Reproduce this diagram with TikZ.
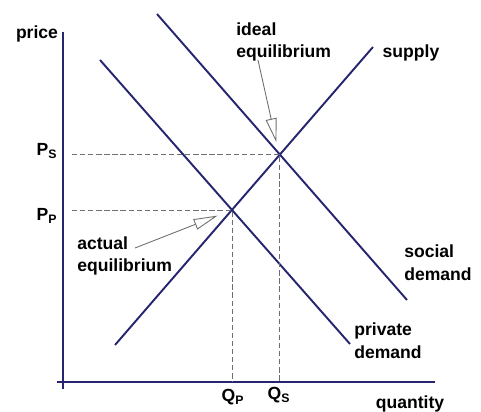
\documentclass[tikz,border=0pt]{standalone}
\usepackage{fontspec}
\setmainfont{Liberation Sans}[BoldFont={Liberation Sans Bold}]
\usepackage{xcolor}
\usetikzlibrary{arrows.meta,positioning}
\definecolor{curvenavy}{RGB}{38,38,112}
\definecolor{guidegray}{RGB}{110,110,110}

\begin{document}
\begin{tikzpicture}[
  x=0.02cm, y=-0.02cm,
  axis/.style={curvenavy, line width=1.7pt},
  curve/.style={curvenavy, line width=1.1pt},
  guide/.style={guidegray, line width=0.5pt, dash pattern=on 3pt off 1.6pt},
  lab/.style={font=\bfseries\fontsize{10}{13}\selectfont, inner sep=0pt},
  pointer/.style={guidegray, line width=0.5pt, -{Triangle[open, length=0.48cm, width=0.22cm]}}
]
\useasboundingbox (0,0) rectangle (481,412);
% axes
\coordinate (ytop) at (63,32);
\coordinate (ybot) at (63,389);
\coordinate (xleft) at (57,382);
\coordinate (xright) at (435,382);
\draw[axis] (ytop) -- (ybot);
\draw[axis] (xleft) -- (xright);
% curves
\coordinate (soc1) at (157,14);
\coordinate (soc2) at (407,300);
\coordinate (priv1) at (100,60);
\coordinate (priv2) at (350,344);
\coordinate (sup1) at (115,345);
\coordinate (sup2) at (373,47);
\draw[curve] (soc1) -- (soc2);
\draw[curve] (priv1) -- (priv2);
\draw[curve] (sup1) -- (sup2);
% equilibria
\coordinate (Eideal) at (279,154);
\coordinate (Eact) at (232,210);
\coordinate (Ps) at (72,154);
\coordinate (Pp) at (72,210);
\coordinate (Qs) at (279,382);
\coordinate (Qp) at (232,382);
\draw[guide] (Ps) -- (Eideal) -- (Qs);
\draw[guide] (Pp) -- (Eact) -- (Qp);
% labels
\node[lab] (price) at (37,34) {price};
\node[lab] (quantity) at (410,404) {quantity};
\node[lab] (supplylab) at (411,53) {supply};
\node[lab, align=left] (soclab) at (438,263) {social\\demand};
\node[lab, align=left] (privlab) at (388,341) {private\\demand};
\node[lab] (pslab) at (47,151) {P\textsubscript{S}};
\node[lab] (pplab) at (47,216) {P\textsubscript{P}};
\node[lab] (qplab) at (233,397) {Q\textsubscript{P}};
\node[lab] (qslab) at (279,395) {Q\textsubscript{S}};
\node[lab, align=left, anchor=north west] (idealtxt) at (236,22) {ideal\\equilibrium};
\node[lab, align=left, anchor=north west] (acttxt) at (77,236) {actual\\equilibrium};
% pointers
\coordinate (idealtail) at (258,60);
\coordinate (acttail) at (135,248);
\draw[pointer, shorten >=0.24cm] (idealtail) -- (Eideal);
\draw[pointer, shorten >=0.31cm] (acttail) -- (Eact);
\end{tikzpicture}
\end{document}
